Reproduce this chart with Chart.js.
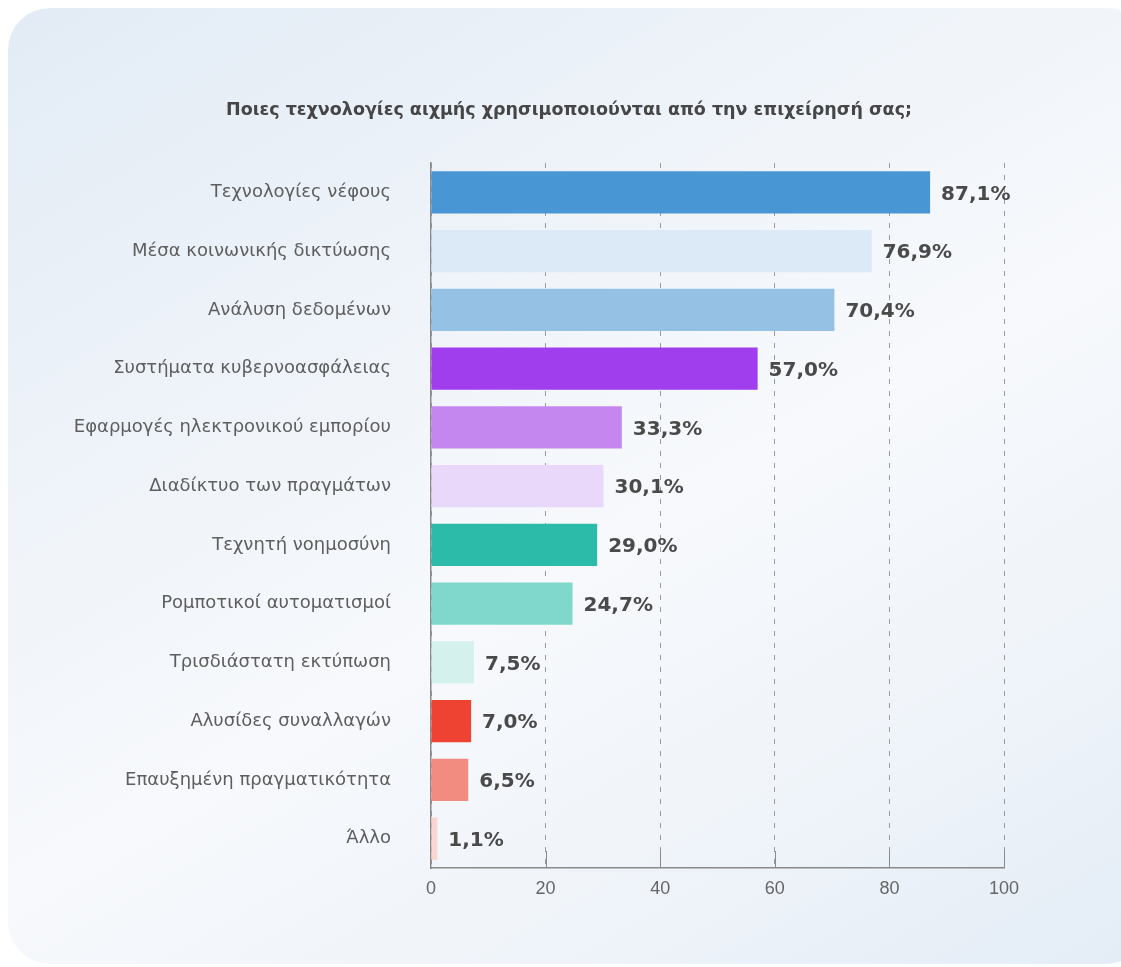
<!DOCTYPE html>
<html>
<head>
<meta charset="utf-8">
<script src="https://cdn.jsdelivr.net/npm/chart.js@4.4.1/dist/chart.umd.min.js"></script>
<style>
  html, body { margin: 0; padding: 0; background: #ffffff; overflow: hidden; }
  .card {
    position: absolute; left: 8px; top: 8px; width: 1140px; height: 956px;
    border-radius: 42px;
    background: linear-gradient(150deg, #e2ebf5 0%, #eef3f9 30%, #f7f9fc 55%, #eef3f9 80%, #e3ecf6 100%);
  }
  .wrap { position: absolute; left: 0; top: 0; width: 1121px; height: 967px; }
</style>
</head>
<body>
<div class="card"></div>
<div class="wrap"><canvas id="grafico" width="1121" height="967"></canvas></div>
<script>
// Dados do gráfico
const categorias = [
    'Τεχνολογίες νέφους',
    'Μέσα κοινωνικής δικτύωσης',
    'Ανάλυση δεδομένων',
    'Συστήματα κυβερνοασφάλειας',
    'Εφαρμογές ηλεκτρονικού εμπορίου',
    'Διαδίκτυο των πραγμάτων',
    'Τεχνητή νοημοσύνη',
    'Ρομποτικοί αυτοματισμοί',
    'Τρισδιάστατη εκτύπωση',
    'Αλυσίδες συναλλαγών',
    'Επαυξημένη πραγματικότητα',
    'Άλλο'
];
const valores = [87.1, 76.9, 70.4, 57.0, 33.3, 30.1, 29.0, 24.7, 7.5, 7.0, 6.5, 1.1];
const cores = [
    '#4896d4', '#dce9f6', '#94c1e4',
    '#a03ded', '#c487f0', '#ead8fa',
    '#2bbba8', '#80d8cc', '#d5f1ee',
    '#ee4232', '#f28b80', '#fbd5d1'
];
const ticksX = [0, 20, 40, 60, 80, 100];
const titulo = 'Ποιες τεχνολογίες αιχμής χρησιμοποιούνται από την επιχείρησή σας;';

// Título centrado
const cabecalho = {
    id: 'cabecalho',
    afterDraw(chart) {
        const ctx = chart.ctx;
        ctx.save();
        ctx.font = 'bold 17.5px "DejaVu Sans", sans-serif';
        ctx.fillStyle = '#464646';
        ctx.textAlign = 'center';
        ctx.textBaseline = 'middle';
        ctx.fillText(titulo, 569, 110);
        ctx.restore();
    }
};

// Rótulos de valor ao lado das barras
const rotulos = {
    id: 'rotulos',
    afterDatasetsDraw(chart) {
        const ctx = chart.ctx;
        const meta = chart.getDatasetMeta(0);
        ctx.save();
        ctx.font = 'bold 20px "DejaVu Sans", sans-serif';
        ctx.fillStyle = '#4a4a4a';
        ctx.textAlign = 'left';
        ctx.textBaseline = 'middle';
        meta.data.forEach((bar, i) => {
            const txt = valores[i].toFixed(1).replace('.', ',') + '%';
            ctx.fillText(txt, bar.x + 11, bar.y + 2);
        });
        ctx.restore();
    }
};

// Pequenas marcas sólidas acima do eixo x
const marcas = {
    id: 'marcas',
    beforeDatasetsDraw(chart) {
        const ctx = chart.ctx;
        const x = chart.scales.x;
        const bottom = chart.chartArea.bottom;
        ctx.save();
        ctx.strokeStyle = '#8a8a8a';
        ctx.lineWidth = 1;
        ticksX.forEach(v => {
            if (v === 0) return;
            const px = Math.round(x.getPixelForValue(v)) + 0.5;
            ctx.beginPath();
            ctx.moveTo(px, bottom - 17);
            ctx.lineTo(px, bottom);
            ctx.stroke();
        });
        ctx.restore();
    }
};

const grafico = new Chart(document.getElementById('grafico'), {
    type: 'bar',
    data: {
        labels: categorias,
        datasets: [{
            data: valores,
            backgroundColor: cores,
            borderWidth: 0,
            barPercentage: 0.72,
            categoryPercentage: 1.0
        }]
    },
    plugins: [marcas, rotulos, cabecalho],
    options: {
        indexAxis: 'y',
        responsive: false,
        animation: false,
        layout: { padding: { top: 163, right: 117, bottom: 0, left: 0 } },
        plugins: {
            legend: { display: false },
            tooltip: { enabled: false },
            title: { display: false }
        },
        scales: {
            x: {
                min: 0,
                max: 100,
                afterBuildTicks: s => { s.ticks = ticksX.map(v => ({ value: v })); },
                afterFit: s => { s.height = 99; },
                grid: { color: '#9a9a9a', lineWidth: 1, drawTicks: false },
                border: { display: true, color: '#8a8a8a', width: 1.5, dash: [5, 7] },
                ticks: {
                    color: '#666666',
                    padding: 10,
                    font: { family: '"Liberation Sans", Arial, sans-serif', size: 18 }
                }
            },
            y: {
                afterFit: s => { s.width = 431; },
                grid: { display: false, drawTicks: false },
                border: { display: true, color: '#8a8a8a', width: 1.5 },
                ticks: {
                    color: '#5e5e5e',
                    padding: 40,
                    font: { family: '"DejaVu Sans", sans-serif', size: 18 }
                }
            }
        }
    }
});
</script>
</body>
</html>
